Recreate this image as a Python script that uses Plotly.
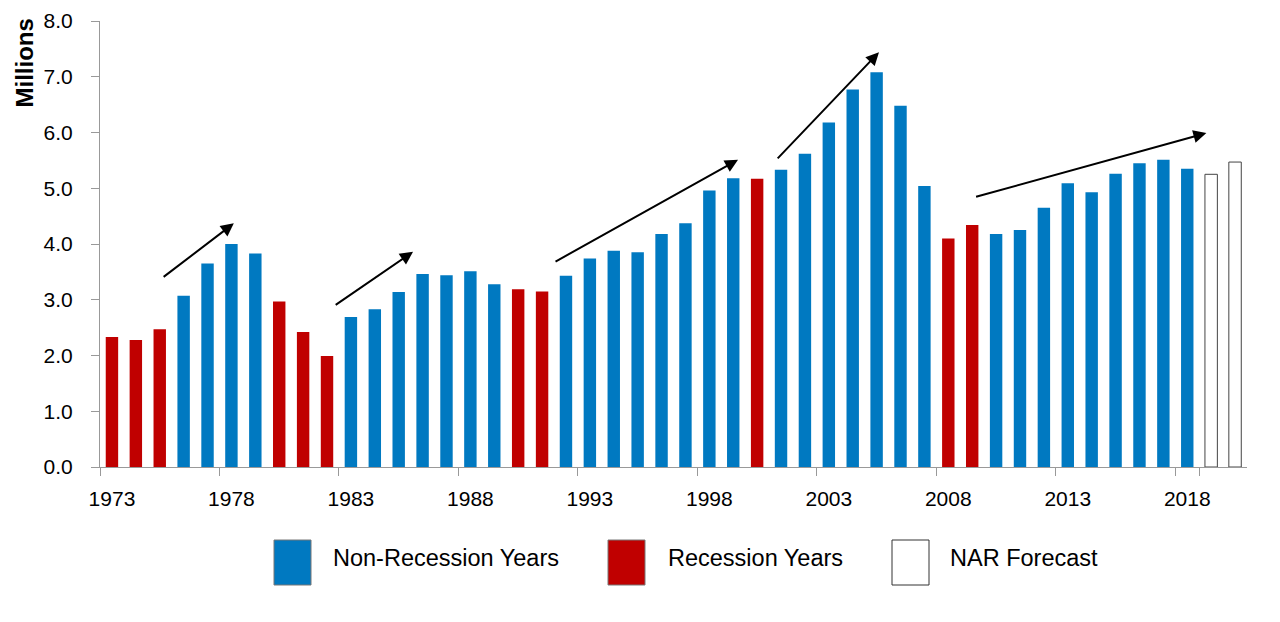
import plotly.graph_objects as go

# Existing-home sales, millions
years = list(range(1973, 2021))
sales = [2.33, 2.28, 2.47, 3.07, 3.65, 4.00, 3.83, 2.97, 2.42, 1.99,
         2.69, 2.83, 3.14, 3.46, 3.44, 3.51, 3.28, 3.19, 3.15, 3.43,
         3.74, 3.88, 3.85, 4.18, 4.37, 4.96, 5.18, 5.17, 5.33, 5.62,
         6.18, 6.77, 7.08, 6.48, 5.04, 4.10, 4.34, 4.18, 4.25, 4.65,
         5.09, 4.93, 5.26, 5.45, 5.51, 5.35, 5.25, 5.47]
recession_years = [1973, 1974, 1975, 1980, 1981, 1982, 1990, 1991, 2000, 2008, 2009]
forecast_years = [2019, 2020]
tick_years = ["1973", "1978", "1983", "1988", "1993", "1998", "2003", "2008", "2013", "2018"]

# trend arrows: (start year, start value, end year, end value)
trend_arrows = [
    (1975.1, 3.39, 1978.1, 4.37),
    (1982.3, 2.89, 1985.6, 3.86),
    (1991.5, 3.67, 1999.2, 5.51),
    (2000.8, 5.51, 2005.1, 7.44),
    (2009.1, 4.84, 2018.8, 5.99),
]

legend_labels = ["Non-Recession Years", "Recession Years", "NAR Forecast"]

FONT = "Liberation Sans, Arial, sans-serif"
BLUE = "#0079C1"
RED = "#C00000"
fills = {"normal": BLUE, "recession": RED, "forecast": "white"}
edges = {"normal": BLUE, "recession": RED, "forecast": "#444444"}

# page has an 8px body margin; margins below are in figure pixels
OFF = 8
L, R, T, B = 92, 41, 13, 163
W, H = 1280, 622
plot_w, plot_h = W - L - R, H - T - B


def px_x(px):
    # screen pixel -> paper x
    return (px - OFF - L) / plot_w


def px_y(py):
    # screen pixel -> paper y
    return (H - B - (py - OFF)) / plot_h


groups = {"normal": ([], []), "recession": ([], []), "forecast": ([], [])}
for yr, val in zip(years, sales):
    if yr in forecast_years:
        key = "forecast"
    elif yr in recession_years:
        key = "recession"
    else:
        key = "normal"
    groups[key][0].append(str(yr))
    groups[key][1].append(val)

fig = go.Figure()
for key, label in zip(["normal", "recession", "forecast"], legend_labels):
    fig.add_trace(go.Bar(
        x=groups[key][0], y=groups[key][1], name=label, showlegend=False,
        marker=dict(color=fills[key], line=dict(color=edges[key], width=1 if key == "forecast" else 0)),
    ))

# arrows (category axis: x offset from the first year)
annotations = []
for x0, y0, x1, y1 in trend_arrows:
    annotations.append(dict(
        x=x1 - 1973, y=y1, ax=x0 - 1973, ay=y0,
        xref="x", yref="y", axref="x", ayref="y",
        text="", showarrow=True, arrowhead=2, arrowsize=1.3, arrowwidth=2, arrowcolor="black",
    ))

annotations.append(dict(
    text="<b>Millions</b>", textangle=-90, x=px_x(24), y=px_y(17), xref="paper", yref="paper",
    xanchor="center", yanchor="top", showarrow=False, font=dict(size=24, color="black", family=FONT),
))

# legend: big swatches like the original
shapes = []
swatch_left = [274, 608, 892]
text_left = [333, 668, 950]
for key, sx, tx, label in zip(["normal", "recession", "forecast"], swatch_left, text_left, legend_labels):
    shapes.append(dict(
        type="rect", xref="paper", yref="paper",
        x0=px_x(sx), x1=px_x(sx + 37), y0=px_y(585), y1=px_y(540),
        fillcolor=fills[key], line=dict(color="#333333" if key == "forecast" else "#777777", width=1),
    ))
    annotations.append(dict(
        text=label, x=px_x(tx - 2), y=px_y(558), xref="paper", yref="paper",
        xanchor="left", yanchor="middle", showarrow=False,
        font=dict(size=23.5, color="black", family=FONT),
    ))

fig.update_layout(
    width=W, height=H,
    margin=dict(l=L, r=R, t=T, b=B),
    plot_bgcolor="white", paper_bgcolor="white",
    barmode="overlay", bargap=0.48,
    font=dict(family=FONT, color="black"),
    showlegend=False,
    xaxis=dict(
        type="category", categoryorder="array", categoryarray=[str(y) for y in years],
        tickmode="array", tickvals=tick_years, tickson="boundaries",
        ticks="outside", ticklen=8, tickcolor="#999999", tickangle=0, ticklabelstandoff=13,
        showline=True, linecolor="#999999", linewidth=1,
        showgrid=False, tickfont=dict(size=21), automargin=False,
        range=[-0.5, len(years) - 0.5],
    ),
    yaxis=dict(
        range=[0, 8], dtick=1, tickformat=".1f",
        ticks="outside", ticklen=8, tickcolor="#999999",
        showline=True, linecolor="#999999", linewidth=1, ticklabelstandoff=14,
        showgrid=False, zeroline=False, tickfont=dict(size=21), automargin=False,
    ),
    shapes=shapes,
    annotations=annotations,
)

fig.write_html("out.html")
